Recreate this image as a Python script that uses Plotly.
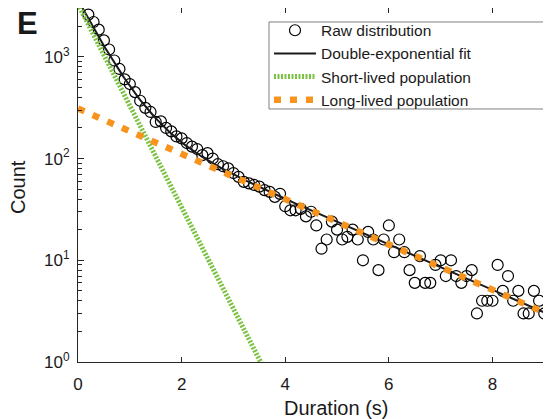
import numpy as np
import plotly.graph_objects as go

# ---- data ----
duration = [round(0.2 + 0.1 * i, 1) for i in range(90)]
count = [2600, 2200, 1850, 1450, 1180, 920, 760, 600, 540, 450,
         370, 315, 287, 229, 232, 200, 185, 165, 158, 142,
         131, 124, 108, 113, 100, 88, 84, 80, 72, 66,
         59, 57, 55, 53, 49, 47, 42, 45, 34, 31,
         31, 32, 27, 30, 22, 13, 16, 24, 20, 16,
         17, 20, 16, 10, 19, 16, 8, 16, 22, 12,
         16, 12, 8, 6, 11, 6, 6, 9, 10, 7,
         10, 7, 6, 7, 8, 3, 4, 4, 4, 9,
         5, 7, 4, 5, 3, 3, 5, 4, 3, 4]

# double-exponential fit parameters (amplitude, time constant in s)
short_amp, short_tau = 3300.0, 0.435
long_amp, long_tau = 310.0, 1.95

x_range = [0, 9.13]
x_ticks = [0, 2, 4, 6, 8]
y_ticks = [1, 10, 100, 1000]
y_ticktext = ["10<sup>0</sup>", "10<sup>1</sup>", "10<sup>2</sup>", "10<sup>3</sup>"]

t = np.linspace(0, 9.6, 400)
short_pop = short_amp * np.exp(-t / short_tau)
long_pop = long_amp * np.exp(-t / long_tau)
fit = short_pop + long_pop

GREEN = "#7cc242"
ORANGE = "#f7941d"
AX = "#262626"
FONT = "Liberation Sans, Arial, sans-serif"

fig = go.Figure()
fig.add_trace(go.Scatter(
    x=duration, y=count, mode="markers", name="Raw distribution",
    marker=dict(symbol="circle-open", size=11, color="black", line=dict(width=1.2)),
))
fig.add_trace(go.Scatter(
    x=t, y=fit, mode="lines", name="Double-exponential fit",
    line=dict(color="#1a1a1a", width=2),
))
fig.add_trace(go.Scatter(
    x=t, y=short_pop, mode="lines", name="Short-lived population",
    line=dict(color=GREEN, width=5, dash="2px,1.5px"),
))
fig.add_trace(go.Scatter(
    x=t, y=long_pop, mode="lines", name="Long-lived population",
    line=dict(color=ORANGE, width=6.5, dash="7px,9px"),
))

# plot area (figure px): left 70, top 0, width 473, height 354
fig.update_layout(
    width=543, height=411,
    margin=dict(l=70, r=0, t=0, b=57),
    paper_bgcolor="white", plot_bgcolor="white",
    font=dict(family=FONT, color="#1a1a1a", size=17),
    showlegend=True,
    legend=dict(
        x=0.4038, y=0.984, xanchor="left", yanchor="top",
        bgcolor="rgba(255,255,255,0)", borderwidth=0,
        font=dict(size=15.5, family=FONT, color="#1a1a1a"),
        itemwidth=42, tracegroupgap=0,
    ),
    xaxis=dict(
        range=x_range, tickvals=x_ticks, ticks="inside", ticklen=5,
        tickcolor=AX, showline=True, linecolor=AX, linewidth=1,
        mirror="ticks", showgrid=False, zeroline=False,
        tickfont=dict(size=17), ticklabelstandoff=7,
    ),
    yaxis=dict(
        type="log", range=[0, 3.48], tickvals=y_ticks, ticktext=y_ticktext,
        ticks="inside", ticklen=6, tickcolor=AX,
        showline=True, linecolor=AX, linewidth=1, mirror=False,
        showgrid=False, zeroline=False, tickfont=dict(size=17),
        ticklabelstandoff=4,
        minor=dict(ticks="inside", ticklen=3.5, tickcolor=AX,
                   tickvals=[k * 10 ** d for d in range(4) for k in range(2, 10)],
                   showgrid=False),
    ),
    shapes=[
        dict(type="rect", xref="paper", yref="paper",
             x0=0.4038, x1=0.9852, y0=0.7147, y1=0.9605,
             line=dict(color="#7f7f7f", width=1), fillcolor="white", layer="above"),
    ],
    annotations=[
        dict(text="Duration (s)", xref="paper", yref="paper", x=0.545, y=-0.13,
             xanchor="center", yanchor="middle", showarrow=False,
             font=dict(size=20)),
        dict(text="Count", xref="paper", yref="paper", x=-0.127, y=0.494,
             xanchor="center", yanchor="middle", textangle=-90, showarrow=False,
             font=dict(size=20)),
        dict(text="<b>E</b>", xref="paper", yref="paper", x=-0.133, y=1.012,
             xanchor="left", yanchor="top", showarrow=False,
             font=dict(size=31, color="#1a1a1a")),
    ],
)

fig.write_html("out.html")
